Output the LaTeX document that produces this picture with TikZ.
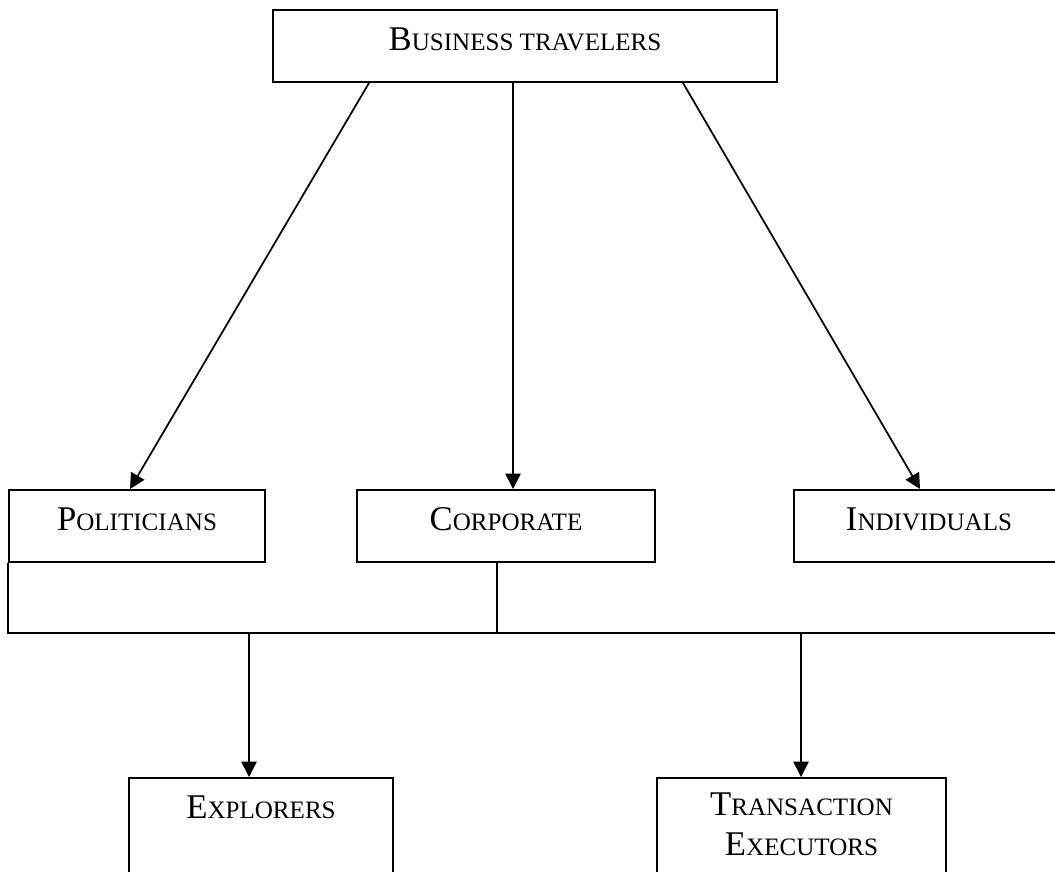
\documentclass[tikz,border=0pt]{standalone}
\usepackage{fontspec}
\setmainfont{Liberation Serif}
\usetikzlibrary{arrows.meta}
\newcommand{\smcap}[1]{{\fontsize{18.8pt}{30pt}\selectfont #1}}

\begin{document}
\begin{tikzpicture}[x=0.75pt, y=-0.75pt, line width=1.3pt,
    box/.style={draw, rectangle, anchor=north, inner xsep=0pt, inner ysep=0pt,
      text height=30.75pt, text depth=23.25pt, font=\fontsize{26pt}{30pt}\selectfont},
    arr/.style={-{Triangle[length=11.5pt, width=11.5pt]}}]
    \useasboundingbox (0, 0) rectangle (1055, 871);
    \clip (0, 0) rectangle (1055, 871);
    \node [box, minimum width=378pt] (0) at (525, 9) {B\smcap{USINESS TRAVELERS}};
    % second row
    \node [box, minimum width=192pt] (1) at (137, 489) {P\smcap{OLITICIANS}};
    \node [box, minimum width=223.5pt] (2) at (506, 489) {C\smcap{ORPORATE}};
    \node [box, minimum width=202.5pt] (3) at (929, 489) {I\smcap{NDIVIDUALS}};
    \draw [arr] ([xshift=72.75pt]0.south west) to ([xshift=-5.25pt]1.north);
    \draw [arr] ([xshift=-9pt]0.south) to ([xshift=-9pt]0.south |- 2.north);
    \draw [arr] ([xshift=-71.25pt]0.south east) to ([xshift=-6.75pt]3.north);
    % joining line
    \coordinate (6) at (497, 633);
    \coordinate (7) at (1070, 633);
    \draw (1.south west) |- (7);
    \draw (6 |- 2.south) to (6);
    % third row
    \node [box, minimum width=198pt, text depth=70pt] (4) at (261, 777) {E\smcap{XPLORERS}};
    \node [box, minimum width=216.75pt, text height=58.5pt, text depth=40pt, align=center] (5) at (801.5, 777) {T\smcap{RANSACTION}\\E\smcap{XECUTORS}};
    \coordinate (8) at (249, 633);
    \coordinate (9) at (801, 633);
    \draw [arr] (8) to (8 |- 4.north);
    \draw [arr] (9) to (9 |- 5.north);
\end{tikzpicture}
\end{document}
